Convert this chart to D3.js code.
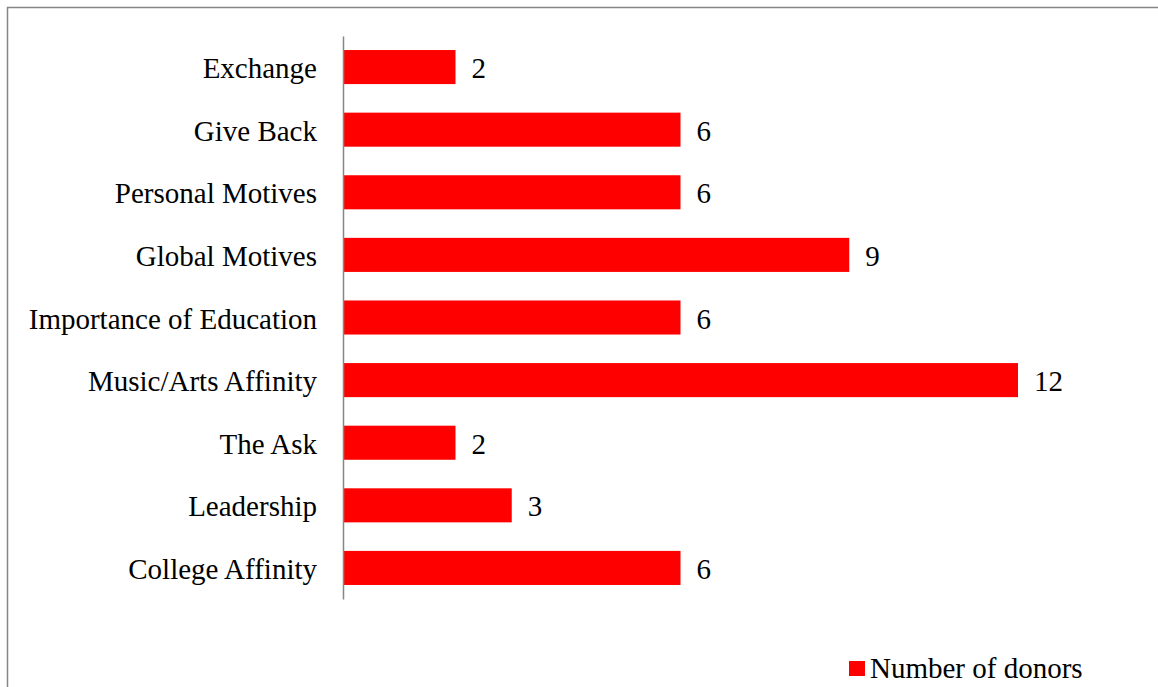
<!DOCTYPE html>
<html>
<head>
<meta charset="utf-8">
<script src="https://cdn.jsdelivr.net/npm/d3@7/dist/d3.min.js"></script>
<style>
  body { margin: 0; background: #fff; }
</style>
</head>
<body>
<div id="chart"></div>
<script>
// data
var categories = ["Exchange", "Give Back", "Personal Motives", "Global Motives",
    "Importance of Education", "Music/Arts Affinity", "The Ask", "Leadership", "College Affinity"];
var donors = [2, 6, 6, 9, 6, 12, 2, 3, 6];
var seriesName = "Number of donors";

var W = 1158, H = 687;
var FONT = "'Liberation Serif', 'Times New Roman', Times, 'DejaVu Serif', serif";

var svg = d3.select("#chart").append("svg")
    .attr("width", W)
    .attr("height", H)
    .style("font-family", FONT);

// outer frame (bottom edge falls outside the picture)
svg.append("rect")
    .attr("x", 7.5)
    .attr("y", 7.5)
    .attr("width", W + 10)
    .attr("height", H + 10)
    .attr("fill", "none")
    .attr("stroke", "#868686")
    .attr("stroke-width", 1.5);

// scales
var x = d3.scaleLinear()
    .domain([0, 12])
    .range([343, 1018]);

var y = d3.scaleBand()
    .domain(categories)
    .range([36, 599])
    .paddingInner(0.456)
    .paddingOuter(0.224);

// bars
svg.selectAll(".bar")
    .data(categories)
    .enter().append("rect")
    .attr("class", "bar")
    .attr("x", x(0))
    .attr("y", function(d) { return y(d); })
    .attr("width", function(d, i) { return x(donors[i]) - x(0); })
    .attr("height", y.bandwidth())
    .attr("fill", "#ff0000");

// value labels
svg.selectAll(".val")
    .data(categories)
    .enter().append("text")
    .attr("class", "val")
    .attr("x", function(d, i) { return x(donors[i]) + 16; })
    .attr("y", function(d) { return y(d) + y.bandwidth() / 2; })
    .attr("dy", "0.38em")
    .style("font-family", FONT)
    .style("font-size", "29px")
    .attr("fill", "#000")
    .text(function(d, i) { return donors[i]; });

// y axis (no ticks, just the line and labels)
var yAxis = svg.append("g")
    .attr("transform", "translate(" + x(0) + ",0)")
    .call(d3.axisLeft(y).tickSize(0).tickPadding(26));

yAxis.attr("font-family", null).attr("font-size", null);

yAxis.select(".domain")
    .attr("stroke", "#868686")
    .attr("stroke-width", 1.5);

yAxis.selectAll("text")
    .attr("dy", "0.38em")
    .style("font-family", FONT)
    .style("font-size", "29px")
    .attr("fill", "#000");

// legend
var legend = svg.append("g")
    .attr("transform", "translate(849,661)");

legend.append("rect")
    .attr("width", 16)
    .attr("height", 15)
    .attr("fill", "#ff0000");

legend.append("text")
    .attr("x", 21)
    .attr("y", 17)
    .style("font-family", FONT)
    .style("font-size", "29px")
    .attr("fill", "#000")
    .text(seriesName);
</script>
</body>
</html>
